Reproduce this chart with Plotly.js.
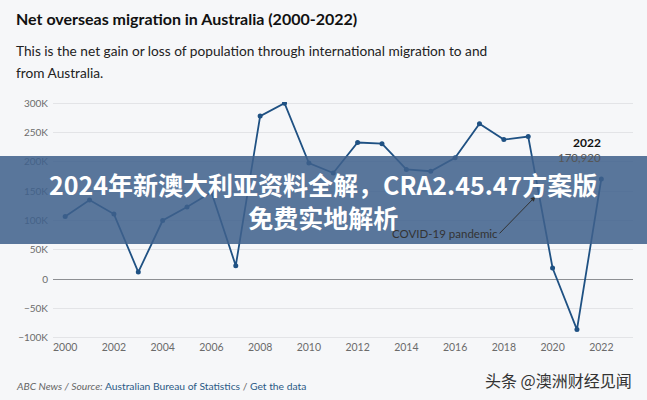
<!DOCTYPE html>
<html>
<head>
<meta charset="utf-8">
<script src="https://cdn.plot.ly/plotly-3.0.1.min.js"></script>
<style>
  html, body { margin: 0; padding: 0; background: #f6f7f9; }
  #chart { width: 647px; height: 400px; }
</style>
</head>
<body>
<div id="chart"></div>
<script>
// net overseas migration
var years = [2000, 2001, 2002, 2003, 2004, 2005, 2006, 2007, 2008, 2009, 2010,
             2011, 2012, 2013, 2014, 2015, 2016, 2017, 2018, 2019, 2020, 2021, 2022];
var netMigration = [107000, 135000, 111000, 12000, 100000, 123000, 148000, 23000, 278000, 300000, 198000,
                    181000, 233000, 231000, 187000, 184000, 207000, 265000, 238000, 243000, 19000, -86000, 170920];

var yTicks = [-100000, -50000, 0, 50000, 100000, 150000, 200000, 250000, 300000];
var yTickText = ['\u2212100K', '\u221250K', '0', '50K', '100K', '150K', '200K', '250K', '300K'];
var xTicks = [2000, 2002, 2004, 2006, 2008, 2010, 2012, 2014, 2016, 2018, 2020, 2022];

var titleText = 'Net overseas migration in Australia (2000-2022)';
var subLine1 = 'This is the net gain or loss of population through international migration to and';
var subLine2 = 'from Australia.';
var bannerLine1 = '2024年新澳大利亚资料全解，CRA2.45.47方案版';
var bannerLine2 = '免费实地解析';

// plot area in pixels: x 53..633, y 102..339
function px(x) { return (x - 53) / 580; }
function py(y) { return (339 - y) / 237; }

var lineColor = '#1f5183';

var data = [{
	type: 'scatter',
	mode: 'lines+markers',
	x: years,
	y: netMigration,
	line: { color: lineColor, width: 1.8 },
	marker: { color: lineColor, size: 5 },
	hoverinfo: 'x+y'
}];

var layout = {
	width: 647,
	height: 400,
	paper_bgcolor: '#f6f7f9',
	plot_bgcolor: '#f6f7f9',
	showlegend: false,
	margin: { l: 53, r: 14, t: 102, b: 61 },
	font: { family: 'Lato, "Noto Sans", sans-serif', color: '#666' },
	xaxis: {
		range: [1999.5, 2023.3],
		tickvals: xTicks,
		ticktext: xTicks.map(String),
		showgrid: false,
		zeroline: false,
		showline: false,
		ticks: '',
		tickfont: { size: 10.5, color: '#6b6b6b' },
		fixedrange: true
	},
	yaxis: {
		range: [-102000, 302000],
		tickvals: yTicks,
		ticktext: yTickText,
		showgrid: true,
		gridcolor: '#e3e4e7',
		gridwidth: 1,
		zeroline: true,
		zerolinecolor: '#8d8f93',
		zerolinewidth: 1,
		ticks: '',
		ticklabelstandoff: 4,
		tickfont: { size: 10, color: '#6b6b6b' },
		fixedrange: true
	},
	shapes: [{
		type: 'rect', xref: 'paper', yref: 'paper', layer: 'above',
		x0: px(-5), x1: px(652), y0: py(156), y1: py(244),
		fillcolor: 'rgba(63,97,140,0.86)', line: { width: 0 }
	}],
	annotations: [
		{ text: '<b>' + titleText + '</b>', xref: 'paper', yref: 'paper', x: px(14), y: py(18),
		  xanchor: 'left', yanchor: 'middle', showarrow: false,
		  font: { family: 'Lato, sans-serif', size: 16, color: '#111' } },
		{ text: subLine1, xref: 'paper', yref: 'paper', x: px(14), y: py(50),
		  xanchor: 'left', yanchor: 'middle', showarrow: false,
		  font: { family: 'Lato, sans-serif', size: 13.7, color: '#222' } },
		{ text: subLine2, xref: 'paper', yref: 'paper', x: px(14), y: py(73),
		  xanchor: 'left', yanchor: 'middle', showarrow: false,
		  font: { family: 'Lato, sans-serif', size: 13.7, color: '#222' } },
		{ text: '<b>2022</b>', x: 2022, y: netMigration[22], xref: 'x', yref: 'y',
		  showarrow: false, xshift: 2, yshift: 36, xanchor: 'right', yanchor: 'middle',
		  font: { family: 'Lato, sans-serif', size: 12, color: '#111' } },
		{ text: '170,920', x: 2022, y: netMigration[22], xref: 'x', yref: 'y',
		  showarrow: false, xshift: 2, yshift: 21, xanchor: 'right', yanchor: 'middle',
		  font: { family: 'Lato, sans-serif', size: 11.5, color: '#555' } },
		{ text: 'COVID-19 pandemic', xref: 'x', yref: 'y', x: 2019.3, y: 141000,
		  ax: -36, ay: 37, showarrow: true, arrowhead: 2, arrowsize: 1, arrowwidth: 1,
		  arrowcolor: '#333', standoff: 0, startstandoff: 0,
		  xanchor: 'right', yanchor: 'middle',
		  font: { family: 'Lato, sans-serif', size: 11.5, color: '#333' } },
		{ text: '<b>' + bannerLine1 + '<br>' + bannerLine2 + '</b>', xref: 'paper', yref: 'paper',
		  x: px(323), y: py(200), xanchor: 'center', yanchor: 'middle', align: 'center', showarrow: false,
		  font: { family: '"Noto Sans CJK SC", sans-serif', size: 25, color: '#ffffff' } },
		{ text: '<i>ABC News / Source:</i> <span style="color:#2b5a86">Australian Bureau of Statistics</span> / <span style="color:#2b5a86">Get the data</span>',
		  xref: 'paper', yref: 'paper', x: px(14), y: py(386),
		  xanchor: 'left', yanchor: 'middle', showarrow: false,
		  font: { family: 'Lato, sans-serif', size: 10.3, color: '#666' } },
		{ text: '头条 @澳洲财经见闻', xref: 'paper', yref: 'paper', x: px(634), y: py(380),
		  xanchor: 'right', yanchor: 'middle', showarrow: false,
		  font: { family: '"Noto Sans CJK SC", sans-serif', size: 16, color: '#333' } }
	]
};

Plotly.newPlot('chart', data, layout, { displayModeBar: false, staticPlot: true });
</script>
</body>
</html>
